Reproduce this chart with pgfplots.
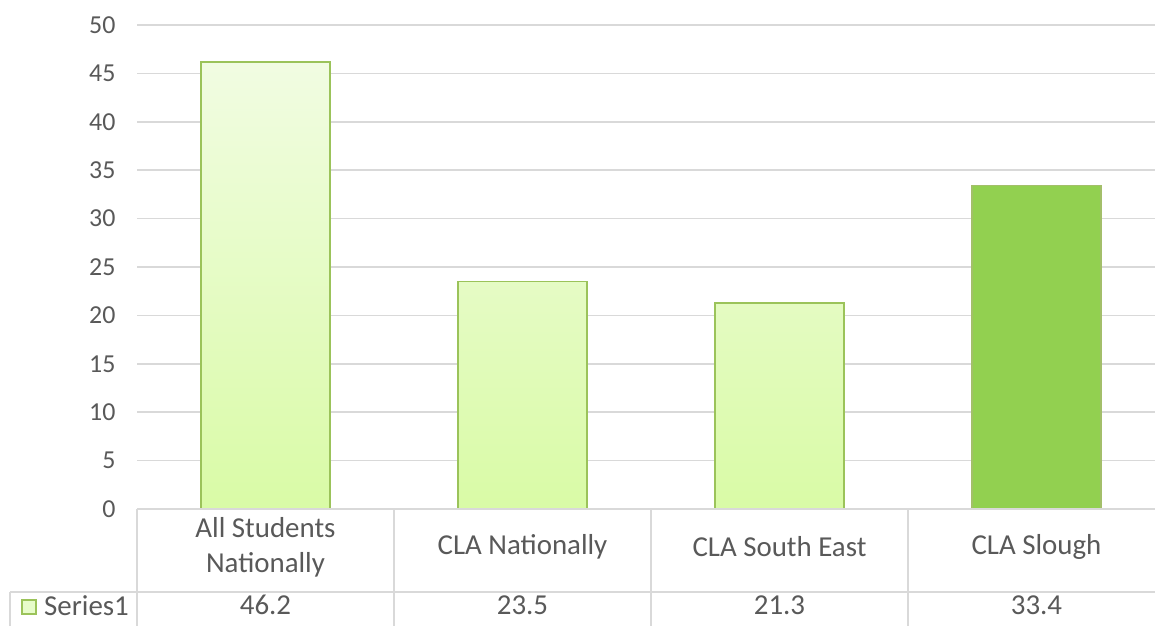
\documentclass[border=0pt]{standalone}
\usepackage{pgfplots}
\pgfplotsset{compat=1.18}
\usepackage{fontspec}
\setmainfont{Carlito}
\definecolor{txt}{HTML}{595959}
\definecolor{gridc}{HTML}{D9D9D9}
\definecolor{bartop}{HTML}{F1FCE2}
\definecolor{barbot}{HTML}{D9FBA6}
\definecolor{barline}{HTML}{9BC35A}
\definecolor{slough}{HTML}{92D050}
\definecolor{sloughline}{HTML}{A3BF6A}
\begin{document}
\begin{tikzpicture}[x=1bp,y=1bp]
\useasboundingbox (0,0) rectangle (1155,626);
\begin{axis}[
  at={(137bp,117bp)}, anchor=south west,
  scale only axis, width=1018bp, height=484bp,
  xmin=-0.5, xmax=3.4611, ymin=0, ymax=50,
  ytick={0,5,...,50}, xtick=\empty,
  axis line style={draw=none},
  major tick length=0pt,
  ymajorgrids, grid style={gridc, line width=1.6pt},
  yticklabel style={font=\fontsize{26}{30}\selectfont, text=txt, xshift=-18bp},
  /pgf/number format/assume math mode=true,
  clip=false,
  ybar, bar width=0.5, bar shift=0pt,
]
\addplot[draw=barline, line width=1.6pt, top color=bartop, bottom color=barbot]
  coordinates {(0,46.2) (1,23.5) (2,21.3)};
\addplot[draw=sloughline, line width=1.6pt, fill=slough]
  coordinates {(3,33.4)};
% data table
\draw[gridc, line width=1.6pt] (axis cs:-0.5,0) -- (axis cs:3.47,0);
\draw[gridc, line width=1.6pt] (axis cs:-0.994,-8.575) -- (axis cs:3.47,-8.575);
\draw[gridc, line width=1.6pt] (axis cs:-0.5,0) -- (axis cs:-0.5,-13);
\draw[gridc, line width=1.6pt] (axis cs:0.5,0) -- (axis cs:0.5,-13);
\draw[gridc, line width=1.6pt] (axis cs:1.5,0) -- (axis cs:1.5,-13);
\draw[gridc, line width=1.6pt] (axis cs:2.5,0) -- (axis cs:2.5,-13);
\draw[gridc, line width=1.6pt] (axis cs:-0.994,-8.575) -- (axis cs:-0.994,-13);
\node[font=\fontsize{29}{35}\selectfont, text=txt, inner sep=0pt, align=center] at (axis cs:0,-3.93) {All Students\\Nationally};
\node[font=\fontsize{29}{35}\selectfont, text=txt, inner sep=0pt] at (axis cs:1,-3.93) {CLA Nationally};
\node[font=\fontsize{29}{35}\selectfont, text=txt, inner sep=0pt] at (axis cs:2,-3.93) {CLA South East};
\node[font=\fontsize{29}{35}\selectfont, text=txt, inner sep=0pt] at (axis cs:3,-3.93) {CLA Slough};
\node[font=\fontsize{29}{35}\selectfont, text=txt, inner sep=0pt] at (axis cs:0,-9.95) {46.2};
\node[font=\fontsize{29}{35}\selectfont, text=txt, inner sep=0pt] at (axis cs:1,-9.95) {23.5};
\node[font=\fontsize{29}{35}\selectfont, text=txt, inner sep=0pt] at (axis cs:2,-9.95) {21.3};
\node[font=\fontsize{29}{35}\selectfont, text=txt, inner sep=0pt] at (axis cs:3,-9.95) {33.4};
\node[font=\fontsize{29}{35}\selectfont, text=txt, inner sep=0pt, anchor=west] at (axis cs:-0.862,-9.95) {Series1};
\end{axis}
\draw[barline, line width=1.4pt, fill=bartop!60!barbot] (22,12) rectangle (36,26);
\end{tikzpicture}
\end{document}
